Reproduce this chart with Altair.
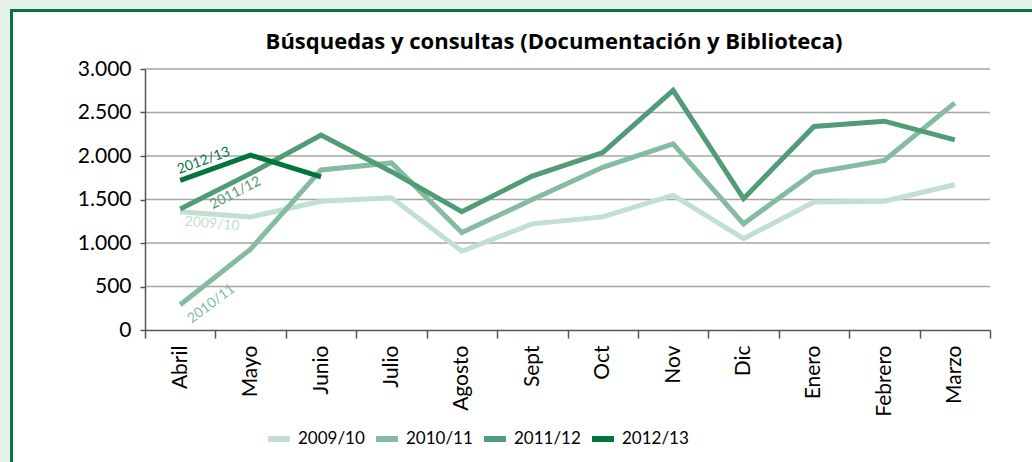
import altair as alt
import pandas as pd

months = ["Abril", "Mayo", "Junio", "Julio", "Agosto", "Sept", "Oct", "Nov",
          "Dic", "Enero", "Febrero", "Marzo"]
series = ["2009/10", "2010/11", "2011/12", "2012/13"]
v_2009_10 = [1360, 1300, 1480, 1520, 905, 1220, 1300, 1550, 1050, 1470, 1480, 1670]
v_2010_11 = [290, 930, 1840, 1920, 1120, 1500, 1870, 2140, 1220, 1810, 1950, 2610]
v_2011_12 = [1390, 1800, 2240, 1820, 1360, 1770, 2040, 2755, 1510, 2340, 2400, 2185]
v_2012_13 = [1720, 2010, 1760]
colors = ["#c2dfcf", "#85bba0", "#4f9c77", "#00763c"]
grid_values = [500, 1000, 1500, 2000, 2500, 3000]
title_text = "Búsquedas y consultas (Documentación y Biblioteca)"

rows = []
for s, vals in zip(series, [v_2009_10, v_2010_11, v_2011_12, v_2012_13]):
    for m, v in zip(months, vals):
        rows.append({"serie": s, "mes": m, "valor": v})
df = pd.DataFrame(rows)

FONT = "Lato"
W, H = 845, 261
PL, PT = 145, 69

x_enc = alt.X("mes:N", sort=months, scale=alt.Scale(domain=months),
              axis=alt.Axis(title=None, labelAngle=-90, labelAlign="right",
                            labelBaseline="middle", labelFontSize=21, labelFont=FONT,
                            labelColor="#000", labelPadding=7, tickBand="extent",
                            tickSize=8, tickColor="#555", tickWidth=1.5,
                            domainColor="#555", domainWidth=1.5, grid=False,
                            zindex=2))
y_scale = alt.Scale(domain=[0, 3000], nice=False)
y_enc = alt.Y("valor:Q", scale=y_scale,
              axis=alt.Axis(title=None, values=[0, 500, 1000, 1500, 2000, 2500, 3000],
                            labelExpr="replace(format(datum.value, ','), ',', '.')",
                            labelFontSize=21, labelFont=FONT, labelColor="#000",
                            labelPadding=9, tickSize=5, tickColor="#555", tickWidth=1.5,
                            domainColor="#555", domainWidth=1.5, grid=False,
                            zindex=2))

frame = alt.Chart(pd.DataFrame({"a": [0]})).mark_rect(
    fill="white", stroke="#00763c", strokeWidth=3
).encode(x=alt.value(10 - PL + 1.5), x2=alt.value(1200), y=alt.value(9 - PT + 1.5),
         y2=alt.value(600))

title = alt.Chart(pd.DataFrame({"t": [title_text]})).mark_text(
    font="Open Sans", fontSize=22, fontWeight="bold", color="#000", align="center",
    baseline="alphabetic"
).encode(x=alt.value(554 - PL), y=alt.value(49 - PT), text="t:N")

grid = alt.Chart(pd.DataFrame({"valor": grid_values})).mark_rule(
    color="#a6a6a6", strokeWidth=1.5
).encode(y=y_enc)

lines = alt.Chart(df).mark_line(strokeWidth=5).encode(
    x=x_enc, y=y_enc,
    color=alt.Color("serie:N", scale=alt.Scale(domain=series, range=colors),
                    legend=alt.Legend(title=None, orient="none", direction="horizontal",
                                      legendX=120, legendY=356, symbolType="stroke",
                                      symbolSize=484, symbolStrokeWidth=6,
                                      labelFontSize=17, labelFont=FONT, labelColor="#000",
                                      labelOffset=5, columnPadding=-1, zindex=2)),
    detail="serie:N",
)

# annotation labels near the start of each line
ann_series = ["2012/13", "2011/12", "2009/10", "2010/11"]
ann_mes = ["Abril", "Abril", "Abril", "Abril"]
ann_valor = [1845, 1250, 1251, 30]
ann_colors = ["#00763c", "#4f9c77", "#c2dfcf", "#85bba0"]
ann_angles = [340, 333, 5, 323]
ann_dx = [25, 62, 32, 39]

texts = []
for s, m, v, c, a, dx in zip(ann_series, ann_mes, ann_valor, ann_colors, ann_angles, ann_dx):
    texts.append(
        alt.Chart(pd.DataFrame({"mes": [m], "valor": [v], "t": [s]})).mark_text(
            font=FONT, fontSize=14, color=c, angle=a, dx=dx, align="center",
            baseline="middle"
        ).encode(x=x_enc, y=y_enc, text="t:N")
    )

chart = alt.layer(frame, title, grid, lines, *texts).properties(
    width=W, height=H,
    background="#e4f0ea",
    padding={"left": PL, "top": PT, "right": 1032 - PL - W, "bottom": 462 - PT - H},
    autosize=alt.AutoSizeParams(type="none"),
).configure_view(stroke=None)

chart.save("out.html", embed_options={"renderer": "svg", "actions": False})
